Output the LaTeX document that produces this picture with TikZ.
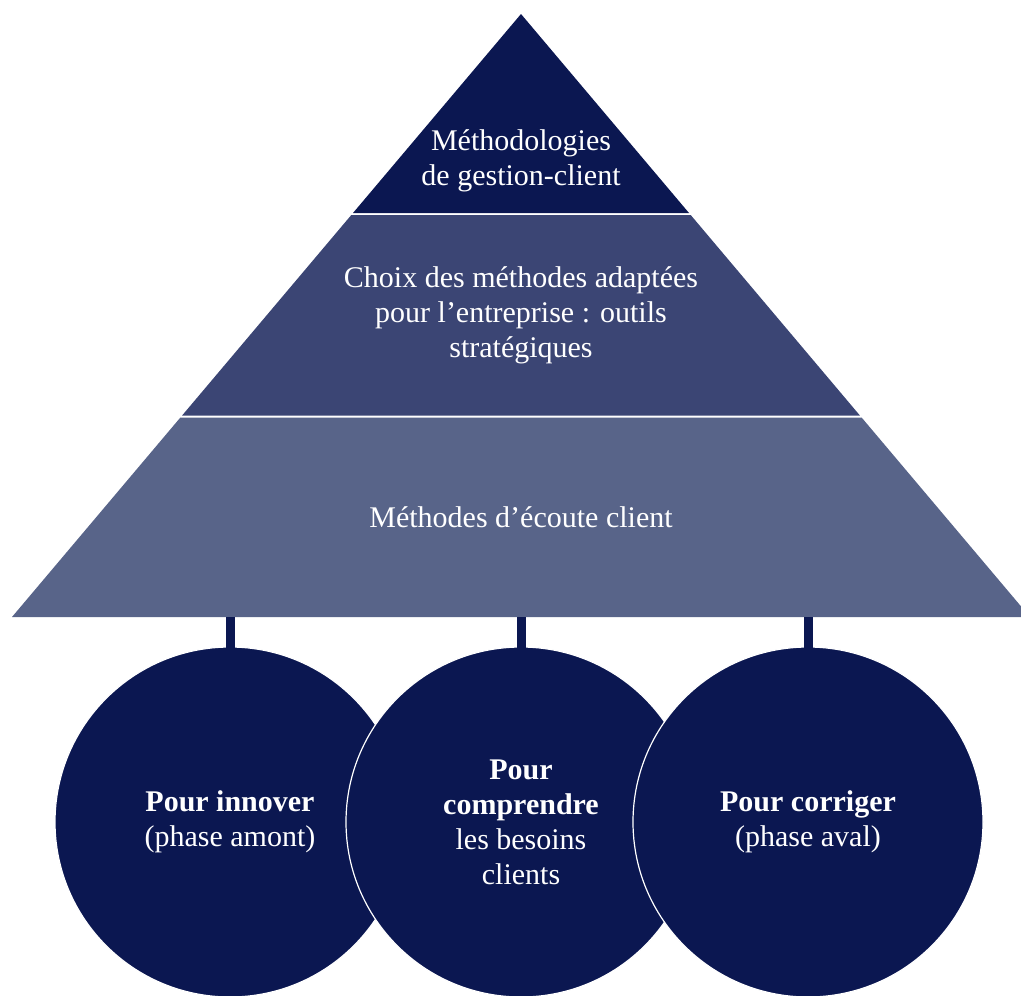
\documentclass[tikz,border=0pt]{standalone}
\usepackage{fontspec}
\setmainfont{Liberation Serif}
\usetikzlibrary{positioning}
\definecolor{navy}{RGB}{11,23,81}
\definecolor{midblue}{RGB}{59,69,116}
\definecolor{lowblue}{RGB}{88,100,137}

\begin{document}
\begin{tikzpicture}[x=1pt, y=-1pt,
    label style/.style={text=white, align=center, font=\fontsize{30}{35}\selectfont},
    ball style/.style={circle, fill=navy, draw=white, line width=1.2pt, minimum size=350pt, inner sep=0pt},
    stem style/.style={draw=navy, line width=9pt, shorten >=-2pt}
]
\useasboundingbox (0,0) rectangle (1021,996);
\clip (0,0) rectangle (1021,996);

% pyramid
\fill[navy] (521,14) -- (689,213) -- (353,213) -- cycle;
\fill[midblue] (351.3,215) -- (690.7,215) -- (859.9,415.5) -- (182.1,415.5) -- cycle;
\fill[lowblue] (180.4,417.5) -- (861.6,417.5) -- (1030,617) -- (12,617) -- cycle;

\node[label style] (gestion) at (521,161) {Méthodologies\\de gestion-client};
\node[label style] (choix) at (521,315) {Choix des méthodes adaptées\\pour l’entreprise : outils\\stratégiques};
\node[label style] (ecoute) at (521,517) {Méthodes d’écoute client};

% circles
\node[ball style, label style] (innover) at (230,822) {\textbf{Pour innover}\\(phase amont)};
\node[ball style, label style] (comprendre) at (521,822) {\textbf{Pour}\\\textbf{comprendre}\\les besoins\\clients};
\node[ball style, label style] (corriger) at (808,822) {\textbf{Pour corriger}\\(phase aval)};

% stems
\coordinate (s1) at (230,617);
\coordinate (s2) at (521,617);
\coordinate (s3) at (808,617);
\draw[stem style] (s1) -- (innover.north);
\draw[stem style] (s2) -- (comprendre.north);
\draw[stem style] (s3) -- (corriger.north);
\end{tikzpicture}
\end{document}
